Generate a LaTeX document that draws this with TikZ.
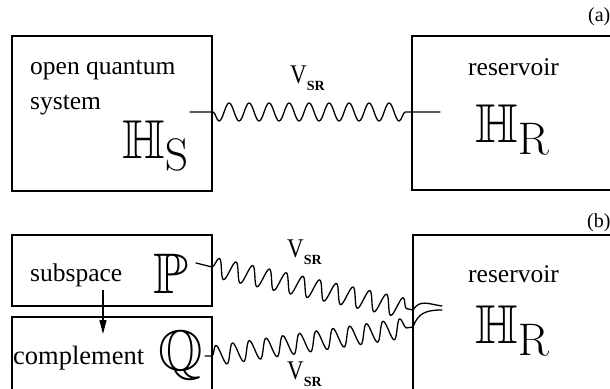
\documentclass[tikz,border=0pt]{standalone}
\usepackage{amssymb}
\usepackage[no-math]{fontspec}
\setmainfont{Liberation Serif}
\usetikzlibrary{decorations.pathmorphing,arrows.meta}
\tikzset{
  box/.style={draw, line width=1.7pt, rectangle, inner sep=0pt},
  txt/.style={inner sep=0pt, anchor=base west, font=\fontsize{25.5}{30}\selectfont},
  bigsym/.style={inner sep=0pt, anchor=base west, font=\fontsize{24.88}{30}\selectfont},
  lbl/.style={inner sep=0pt, anchor=base west},
  wave/.style={line width=1.3pt, line join=round, line cap=round},
}
\newcommand{\vsr}{{\fontsize{27}{30}\selectfont\scalebox{0.85}[1]{V}\raisebox{-7pt}{\fontsize{14}{14}\selectfont\bfseries SR}}}
\begin{document}
\begin{tikzpicture}[x=1pt,y=-1pt]
\clip (0,0) rectangle (610,388);
\fill[white] (0,0) rectangle (610,388);
% (a) boxes
\node[box, minimum width=200pt, minimum height=155pt] (sys) at (112,113.5) {};
\node[box, minimum width=210pt, minimum height=154pt] (res1) at (517,113) {};
\node[txt] (t1) at (30,74) {open quantum};
\node[txt] (t2) at (30,109) {system};
\node[bigsym] (hs) at (122,158) {\scalebox{2.2}{$\mathbb{H}_{\mathrm{S}}$}};
\node[txt] (t3) at (468,75) {reservoir};
\node[bigsym] (hr1) at (475,142) {\scalebox{2.2}{$\mathbb{H}_{\mathrm{R}}$}};
\node[lbl, font=\fontsize{20}{24}\selectfont] (la) at (588,21) {(a)};
\node[lbl] (v1) at (290,83) {\vsr};
\coordinate (w1s) at (190,112);
\coordinate (w1e) at (440,112);
\draw[wave] (w1s) -- (w1s -| sys.east)
  decorate[decoration={snake, segment length=20pt, amplitude=9pt, mirror}] {-- (w1s -| res1.west)}
  -- (w1e);
% (b) boxes
\node[box, minimum width=200pt, minimum height=71pt] (sub) at (112,270.5) {};
\node[box, minimum width=200pt, minimum height=78pt] (comp) at (112,356) {};
\node[box, minimum width=210pt, minimum height=160pt] (res2) at (518,315) {};
\node[txt] (t4) at (30,281) {subspace};
\node[txt, font=\fontsize{26.5}{30}\selectfont] (t5) at (13,364) {complement};
\node[bigsym] (pp) at (153,293) {\scalebox{2.3}{$\mathbb{P}$}};
\node[bigsym] (qq) at (158,370) {\scalebox{2.3}{$\mathbb{Q}$}};
\node[txt] (t6) at (468,282) {reservoir};
\node[bigsym] (hr2) at (475,343) {\scalebox{2.2}{$\mathbb{H}_{\mathrm{R}}$}};
\node[lbl, font=\fontsize{20}{24}\selectfont] (lb) at (587,227) {(b)};
\node[lbl] (v2) at (287,257) {\vsr};
\node[lbl] (v3) at (287,379) {\vsr};
% arrow subspace -> complement
\coordinate (ar1) at (103,290);
\coordinate (ar2) at (103,334);
\draw[line width=1.3pt, -{Triangle[length=14pt,width=7pt]}] (ar1) -- (ar2);
% waves from P and Q
\coordinate (ps) at (196,263);
\coordinate (pe) at (212,267);
\coordinate (pm) at (413,310);
\coordinate (pf) at (442,306);
\draw[wave] (ps) -- (pe)
  decorate[decoration={snake, segment length=17.1pt, amplitude=10pt}] {-- (pm)}
  .. controls (420,299) and (428,304) .. (pf);
\coordinate (qs) at (205,356);
\coordinate (qe) at (212,356);
\coordinate (qm) at (413,327);
\coordinate (qf) at (442,310);
\draw[wave] (qs) -- (qe)
  decorate[decoration={snake, segment length=16.9pt, amplitude=10pt}] {-- (qm)}
  .. controls (418,313) and (426,310) .. (qf);
\end{tikzpicture}
\end{document}
